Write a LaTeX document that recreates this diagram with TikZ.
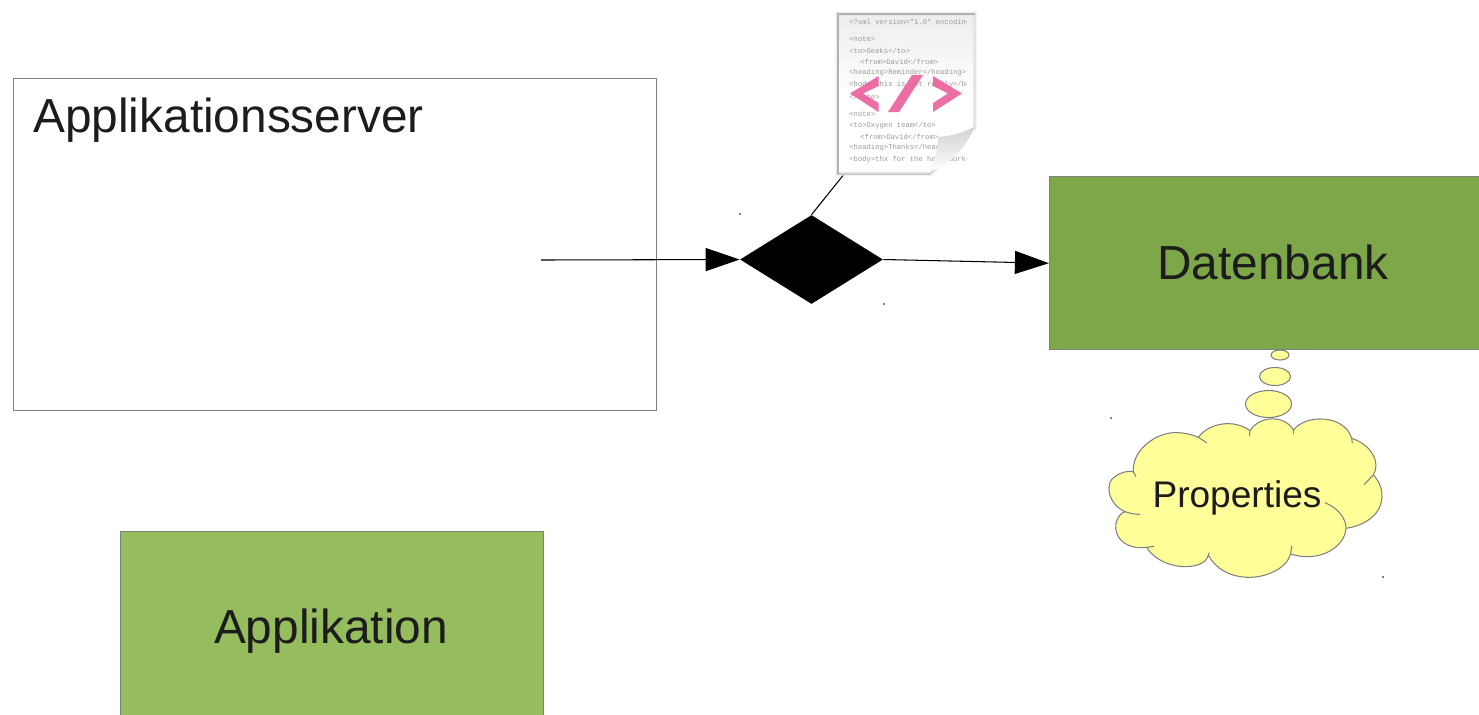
\documentclass[tikz,border=0pt]{standalone}
\usepackage{fontspec}
\setmainfont{Liberation Sans}
\setmonofont{Liberation Mono}
\usetikzlibrary{arrows.meta}
\usetikzlibrary{shapes.geometric, positioning}
\definecolor{servergray}{HTML}{808080}
\definecolor{appgreen}{HTML}{95BD5E}
\definecolor{dbgreen}{HTML}{7DA748}
\definecolor{cloudyellow}{HTML}{FFFF99}
\definecolor{inktext}{HTML}{1C1C1C}
\definecolor{tagpink}{HTML}{EC5F9B}
\tikzset{
  box/.style={draw=servergray,line width=0.4pt,inner sep=0pt},
  biglabel/.style={text=inktext,font=\fontsize{27.2}{32}\selectfont,inner sep=0pt},
  flowline/.style={black,line width=0.6pt},
  flowarrow/.style={flowline,-{Triangle[length=0.68cm,width=0.46cm]}},
  cloudline/.style={draw=servergray,line width=0.6pt},
  codeline/.style={text=gray!80,font=\ttfamily\fontsize{4.1}{5}\selectfont,inner sep=0pt,anchor=west},
}
\begin{document}
\begin{tikzpicture}[x=0.02cm,y=-0.02cm]
    \useasboundingbox (0,0) rectangle (1479,714);
    % boxes
    \node[box,minimum width=12.86cm,minimum height=6.64cm] (server) at (335.25,244.5) {};
    \node[biglabel,anchor=west] (serverlabel) at (33,120.5) {Applikationsserver};
    \node[box,fill=appgreen,minimum width=8.46cm,minimum height=3.8cm] (app) at (331.7,626.5) {};
    \node[biglabel] (applabel) at (331,631) {Applikation};
    \node[box,fill=dbgreen,minimum width=8.96cm,minimum height=3.46cm] (db) at (1273.2,263.2) {};
    \node[biglabel] (dblabel) at (1273,262.5) {Datenbank};
    % connectors
    \node[diamond,fill=black,inner sep=0pt,minimum width=2.86cm,minimum height=1.78cm] (switch) at (811.5,259.5) {};
    \coordinate (start) at (541,260);
    \coordinate (xmlfoot) at (845,173);
    \draw[flowarrow] (start) -- (switch.west);
    \draw[flowarrow] (switch.east) -- (db.west);
    \draw[flowline] (switch.north) -- (xmlfoot);
    % xml file
    \fill[gray!15] (835.5,11.5) -- (976.5,11.5) -- (976.5,128) -- (932,175.5) -- (835.5,175.5) -- cycle;
    \fill[gray!60] (837,13) -- (975,13) -- (975,128) -- (930,174.5) -- (837,174.5) -- cycle;
    \fill[gray!20] (839,15) -- (975,15) -- (975,128) -- (930,173.5) -- (839,173.5) -- cycle;
    \shade[top color=gray!14,bottom color=white,middle color=white]
        (839,16) -- (973,16) -- (973,130) -- (929,172) -- (839,172) -- cycle;
    \begin{scope}
      \clip (839,16) rectangle (966,172);
      \foreach \ypos/\xpos/\codetext in {
          23/849/{<?xml version="1.0" encoding},
          39/849/{<note>},
          51/849/{<to>Geeks</to>},
          62/860/{<from>David</from>},
          73/849/{<heading>Reminder</heading>},
          85/849/{<body>this is not really</body>},
          97/849/{</note>},
          114/849/{<note>},
          126/849/{<to>Oxygen team</to>},
          137/860/{<from>David</from>},
          148/849/{<heading>Thanks</heading>},
          160/849/{<body>thx for the hard work</body>}}
        \node[codeline] (code\ypos) at (\xpos,\ypos) {\codetext};
    \end{scope}
    \fill[tagpink,opacity=0.9] (878.5,76) -- (850,93.5) -- (878.5,112) -- (878.5,103) -- (863,93.5) -- (878.5,86) -- cycle;
    \fill[tagpink,opacity=0.9] (912,75) -- (923,75) -- (899,112) -- (888,112) -- cycle;
    \fill[tagpink,opacity=0.9] (933,76) -- (962,93.5) -- (933,112) -- (933,103) -- (948,93.5) -- (933,86) -- cycle;
    % page corner
    \shade[top color=gray!35,bottom color=white]
        (974,127) .. controls (960,134) and (950,136) .. (938,137)
        .. controls (938,150) and (933,165) .. (928,172)
        .. controls (950,166) and (968,145) .. cycle;
    % cloud
    \fill[cloudyellow,draw=servergray,line width=0.6pt] (1280,355) ellipse [x radius=9,y radius=5];
    \fill[cloudyellow,draw=servergray,line width=0.6pt] (1275,376.5) ellipse [x radius=15.5,y radius=9];
    \fill[cloudyellow,draw=servergray,line width=0.6pt] (1268.5,404) ellipse [x radius=23,y radius=13.5];
    \begin{scope}[shift={(1090,340)},x=0.00667cm,y=-0.00667cm]
      \filldraw[fill=cloudyellow,cloudline] (130,395)
        .. controls (125,330) and (200,275) .. (260,278)
        .. controls (285,278) and (310,285) .. (325,292)
        .. controls (355,250) and (430,235) .. (480,272)
        .. controls (510,225) and (585,225) .. (610,270)
        .. controls (650,220) and (765,225) .. (785,295)
        .. controls (835,310) and (875,360) .. (850,405)
        .. controls (895,450) and (890,545) .. (768,565)
        .. controls (765,620) and (690,670) .. (602,642)
        .. controls (590,685) and (530,712) .. (478,712)
        .. controls (420,712) and (375,685) .. (355,645)
        .. controls (345,695) and (215,695) .. (170,622)
        .. controls (105,630) and (70,590) .. (78,550)
        .. controls (82,530) and (95,518) .. (105,515)
        .. controls (50,490) and (45,425) .. (75,410)
        .. controls (95,395) and (115,392) .. cycle;
      \draw[cloudline] (130,395) -- (138,410);
      \draw[cloudline] (325,292) -- (350,308);
      \draw[cloudline] (480,272) -- (478,288);
      \draw[cloudline] (610,270) -- (610,282);
      \draw[cloudline] (785,295) -- (787,310);
      \draw[cloudline] (850,405) -- (822,434);
      \draw[cloudline] (705,488) .. controls (745,505) and (768,535) .. (768,565);
      \draw[cloudline] (602,642) -- (605,618);
      \draw[cloudline] (170,622) -- (192,619);
      \draw[cloudline] (105,515) .. controls (118,520) and (135,523) .. (150,523);
      \draw[cloudline] (355,645) -- (358,638);
    \end{scope}
    \node[text=inktext,font=\fontsize{21.1}{25}\selectfont,inner sep=0pt] (props) at (1237,498) {Properties};
    % specks
    \foreach \sx/\sy in {740/214,884/304,1111/418,1383/577}
      \fill[gray] (\sx-0.6,\sy-0.6) rectangle (\sx+0.6,\sy+0.6);
\end{tikzpicture}
\end{document}
